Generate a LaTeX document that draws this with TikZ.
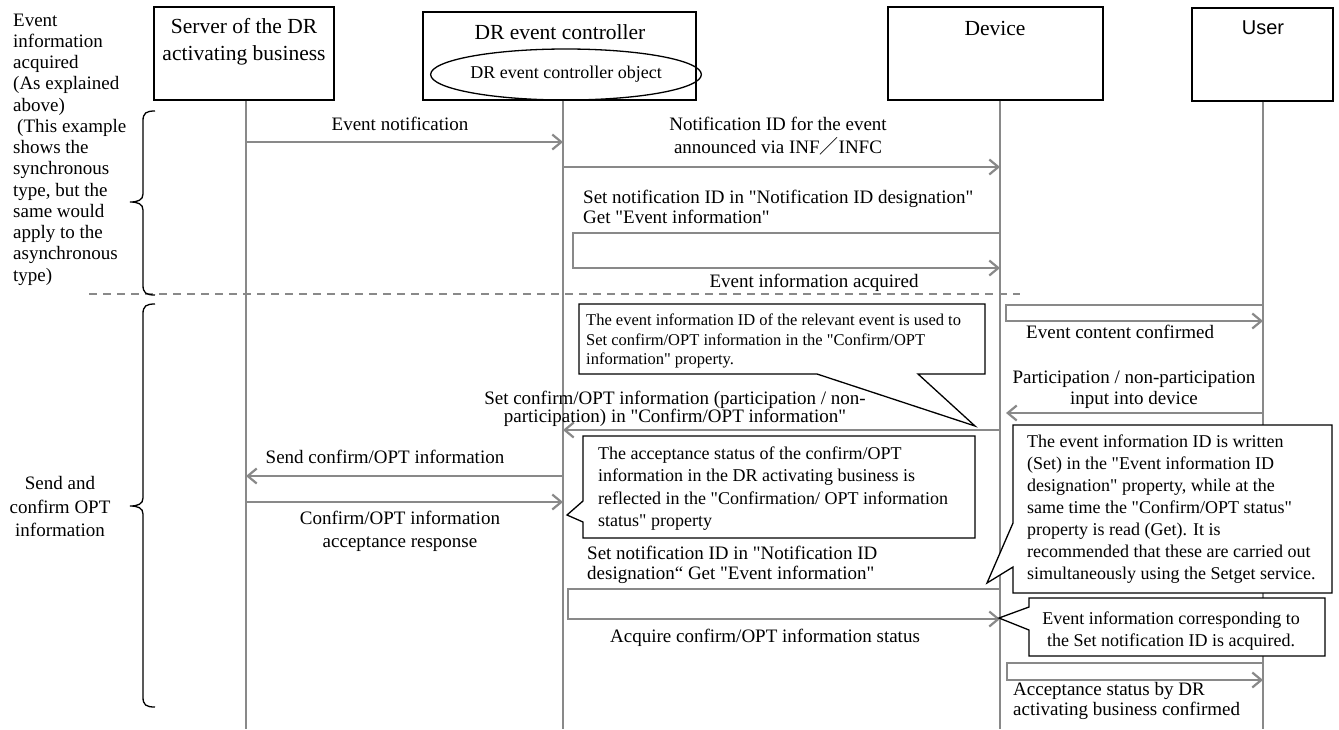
\documentclass[tikz,border=0pt]{standalone}
\usepackage{fontspec}
\setmainfont{Liberation Serif}[Ligatures=TeXOff]
\newfontfamily\arialf{Liberation Sans}
\newfontfamily\cjkf{Noto Sans CJK SC}
\usetikzlibrary{arrows.meta,shapes.geometric}
\definecolor{lgray}{RGB}{137,137,137}
\begin{document}
\begin{tikzpicture}[x=1pt,y=-1pt,
  hbox/.style={draw=black, line width=1.4pt, inner sep=0pt},
  hdr/.style={font=\fontsize{21.5}{27}\selectfont, inner sep=0pt, align=center},
  lbl/.style={font=\fontsize{19}{21.5}\selectfont, inner sep=0pt, align=center},
  lbll/.style={lbl, align=left, anchor=west},
  cotxt/.style={font=\fontsize{18}{22}\selectfont, inner sep=0pt, align=left, anchor=west},
  life/.style={draw=lgray, line width=2.2pt},
  msg/.style={draw=lgray, line width=2.2pt, -{Straight Barb[length=9pt,width=15pt]}},
  callout/.style={draw=black, fill=white, line width=1.3pt, line join=miter},
  brace/.style={draw=black, line width=1.3pt},
]
\useasboundingbox (0,0) rectangle (1339,729);

% header boxes
\node[hbox, minimum width=180pt, minimum height=93pt] (srv) at (244,53.5) {};
\node[hbox, minimum width=273pt, minimum height=88pt] (ctl) at (559.5,56) {};
\node[hbox, minimum width=215pt, minimum height=93pt] (dev) at (995.5,53.5) {};
\node[hbox, minimum width=141pt, minimum height=93pt] (usr) at (1262.5,54.5) {};
\node[hdr] (srvt) at (244,41.5) {Server of the DR\\activating business};
\node[hdr] (ctlt) at (560,32) {DR event controller};
\node[draw=black, line width=1.3pt, ellipse, minimum width=227pt, minimum height=51pt, inner sep=0pt, font=\fontsize{18}{21}\selectfont] (obj) at (566,74.5) {DR event controller object};
\node[hdr] (devt) at (995,28) {Device};
\node[font=\arialf\fontsize{20}{24}\selectfont, inner sep=0pt] (usrt) at (1263,28) {User};

% lifeline ends
\coordinate (sB) at (246,729);
\coordinate (cB) at (563,729);
\coordinate (dB) at (1000,729);
\coordinate (uB) at (1263,729);

% dashed separator
\draw[lgray, line width=1.3pt, dash pattern=on 8pt off 6pt] (89,294) -- (1020,294);

\draw[life] (sB |- srv.south) -- (sB);
\draw[life] (cB |- ctl.south) -- (cB);
\draw[life] (dB |- dev.south) -- (dB);
\draw[life] (uB |- usr.south) -- (uB);

% braces
\draw[brace] (155,111) .. controls (146,111) and (143,113) .. (143,121) -- (143,194) .. controls (143,200) and (138,202) .. (130,202) .. controls (138,202) and (143,204) .. (143,210) -- (143,285) .. controls (143,293) and (146,295) .. (155,295);
\draw[brace] (155,304) .. controls (146,304) and (143,306) .. (143,314) -- (143,498) .. controls (143,504) and (138,506) .. (130,506) .. controls (138,506) and (143,508) .. (143,514) -- (143,697) .. controls (143,705) and (146,707) .. (155,707);

% left texts
\node[lbll, font=\fontsize{19}{21.25}\selectfont] (lt1) at (13,149.5) {Event\\information\\acquired\\(As explained\\above)\\\hspace*{4pt}(This example\\shows the\\synchronous\\type, but the\\same would\\apply to the\\asynchronous\\type)};
\node[lbl, font=\fontsize{19}{23.5}\selectfont] (lt2) at (60,506.5) {Send and\\confirm OPT\\information};

% messages
\draw[msg] (sB |- 0,142) -- (cB |- 0,142);
\draw[msg] (cB |- 0,167) -- (dB |- 0,167);
\draw[msg] (dB |- 0,233) -- (573,233) -- (573,268) -- (dB |- 0,268);
\draw[msg] (uB |- 0,305) -- (1006,305) -- (1006,321) -- (uB |- 0,321);
\draw[msg, shorten >=6pt] (uB |- 0,413) -- (dB |- 0,413);
\draw[msg] (dB |- 0,430) -- (cB |- 0,430);
\draw[msg] (cB |- 0,476) -- (sB |- 0,476);
\draw[msg] (sB |- 0,502) -- (cB |- 0,502);
\draw[msg] (dB |- 0,589) -- (568,589) -- (568,619) -- (dB |- 0,619);
\draw[msg] (uB |- 0,663) -- (1007,663) -- (1007,680) -- (uB |- 0,680);

% message labels
\node[lbl] (l1) at (400,124) {Event notification};
\node[lbl, font=\fontsize{19}{23}\selectfont] (l2) at (778,136.5) {Notification ID for the event\\announced via INF{\cjkf ／}INFC};
\node[lbll, font=\fontsize{19}{20}\selectfont] (l3) at (583,207) {Set notification ID in "Notification ID designation"\\Get "Event information"};
\node[lbl] (l4) at (814,283) {Event information acquired};
\node[lbll] (l5) at (1026,332) {Event content confirmed};
\node[lbl, font=\fontsize{19}{21}\selectfont] (l6) at (1134,389.5) {Participation / non-participation\\input into device};
\node[lbl, font=\fontsize{19}{18.5}\selectfont] (l7) at (675,409) {Set confirm/OPT information (participation / non-\\participation) in "Confirm/OPT information"};
\node[lbl] (l8) at (385,457) {Send confirm/OPT information};
\node[lbl, font=\fontsize{19}{23}\selectfont] (l9) at (400,531.5) {Confirm/OPT information\\acceptance response};
\node[lbll, font=\fontsize{19}{20}\selectfont] (l10) at (587,565) {Set notification ID in "Notification ID\\designation“ Get "Event information"};
\node[lbl] (l11) at (765,638) {Acquire confirm/OPT information status};
\node[lbll, font=\fontsize{19}{20}\selectfont] (l12) at (1013,701) {Acceptance status by DR\\activating business confirmed};

% callouts
\draw[callout] (579,304) -- (985,304) -- (985,374) -- (918,374) -- (975,426) -- (817,374) -- (579,374) -- cycle;
\node[cotxt, font=\fontsize{16.5}{19.5}\selectfont] (c1t) at (586,341) {The event information ID of the relevant event is used to\\Set confirm/OPT information in the "Confirm/OPT\\information" property.};

\draw[callout] (583,436) -- (975,436) -- (975,538) -- (583,538) -- (583,522) -- (567,515) -- (583,501) -- cycle;
\node[cotxt, font=\fontsize{18}{22.5}\selectfont] (c2t) at (598,488.5) {The acceptance status of the confirm/OPT\\information in the DR activating business is\\reflected in the "Confirmation/ OPT information\\status" property};

\draw[callout] (1013,425) -- (1332,425) -- (1332,593) -- (1013,593) -- (1013,567) -- (987,583) -- (1013,523) -- cycle;
\node[cotxt] (c3t) at (1027,509) {The event information ID is written\\(Set) in the "Event information ID\\designation" property, while at the\\same time the "Confirm/OPT status"\\property is read (Get). It is\\recommended that these are carried out\\simultaneously using the Setget service.};

\draw[callout] (1029,598) -- (1325,598) -- (1325,656) -- (1029,656) -- (1029,630) -- (999,618) -- (1029,607) -- cycle;
\node[cotxt, align=center, anchor=center] (c4t) at (1171,631) {Event information corresponding to\\the Set notification ID is acquired.};
\end{tikzpicture}
\end{document}
